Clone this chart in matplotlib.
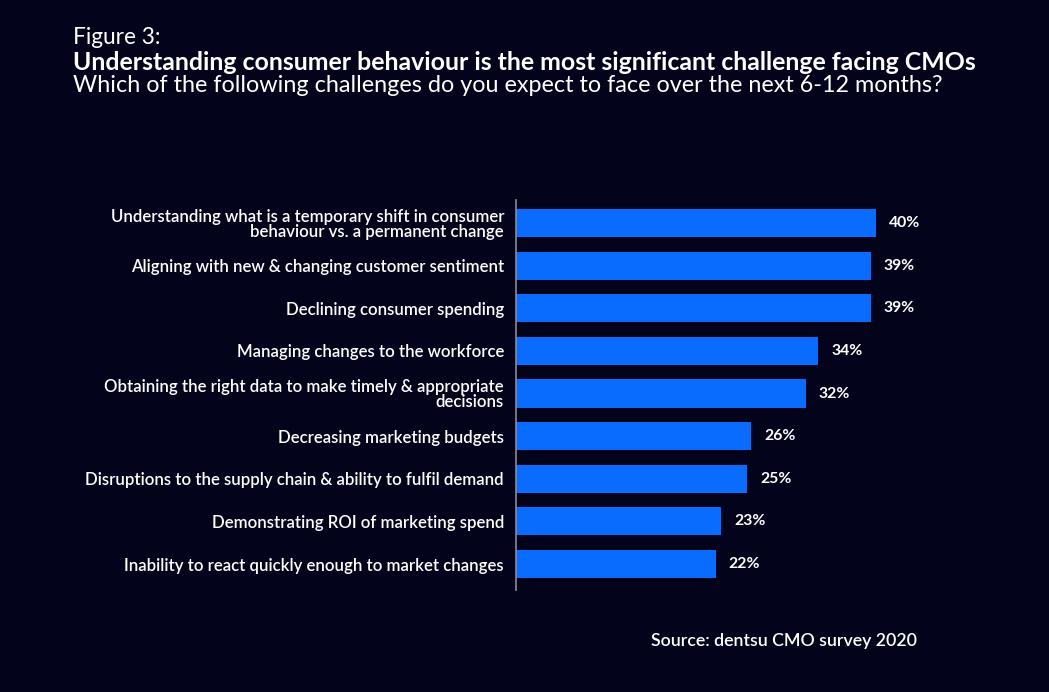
import matplotlib
matplotlib.use("Agg")
import matplotlib.pyplot as plt

# Survey data (top to bottom as shown)
challenges = [
    "Understanding what is a temporary shift in consumer\nbehaviour vs. a permanent change",
    "Aligning with new & changing customer sentiment",
    "Declining consumer spending",
    "Managing changes to the workforce",
    "Obtaining the right data to make timely & appropriate\ndecisions",
    "Decreasing marketing budgets",
    "Disruptions to the supply chain & ability to fulfil demand",
    "Demonstrating ROI of marketing spend",
    "Inability to react quickly enough to market changes",
]
shares = [40.0, 39.4, 39.4, 33.6, 32.2, 26.1, 25.7, 22.8, 22.2]
share_labels = ["40%", "39%", "39%", "34%", "32%", "26%", "25%", "23%", "22%"]

BG = "#03031c"
BAR = "#0a6cff"
FONT = "Lato"

W, H = 1049, 692
fig = plt.figure(figsize=(W / 100, H / 100), dpi=100, facecolor=BG)

# axes: left spine at x=516px, spans y=200..590px
ax_left, ax_right = 516, 1000
ax_top, ax_bot = 200, 590
ax = fig.add_axes([ax_left / W, 1 - ax_bot / H,
                   (ax_right - ax_left) / W, (ax_bot - ax_top) / H])
ax.set_facecolor(BG)

ys = list(range(len(challenges)))
ax.barh(ys, shares, height=0.66, color=BAR, zorder=2)
ax.set_xlim(0, (ax_right - ax_left) / 9.0)
ax.set_ylim(len(challenges) - 1 + 0.61, -0.54)

for y, v, lbl in zip(ys, shares, share_labels):
    ax.text(v + 1.45, y, lbl, ha="left", va="center", color="white",
            fontsize=11.3, fontweight="bold", family=FONT)

ax.set_yticks(ys)
ax.set_yticklabels(challenges, fontsize=12.1, color="white", family=FONT,
                   fontweight="semibold", linespacing=0.95)
ax.tick_params(axis="y", length=0, pad=8.6)
ax.set_xticks([])
for side in ["top", "right", "bottom"]:
    ax.spines[side].set_visible(False)
ax.spines["left"].set_color("#8a8a99")
ax.spines["left"].set_linewidth(1.2)

# titles
fig.text(73 / W, 1 - 37 / H, "Figure 3:", ha="left", va="center",
         color="white", fontsize=16.3, family=FONT)
fig.text(73 / W, 1 - 62 / H,
         "Understanding consumer behaviour is the most significant challenge facing CMOs",
         ha="left", va="center", color="white", fontsize=17.9, family=FONT,
         fontweight="bold")
fig.text(73 / W, 1 - 86 / H,
         "Which of the following challenges do you expect to face over the next 6-12 months?",
         ha="left", va="center", color="white", fontsize=16.8, family=FONT)

fig.text(917 / W, 1 - 641 / H, "Source: dentsu CMO survey 2020",
         ha="right", va="center", color="white", fontsize=12.8, family=FONT,
         fontweight="semibold")

fig.savefig("out.png", dpi=100, facecolor=BG)
